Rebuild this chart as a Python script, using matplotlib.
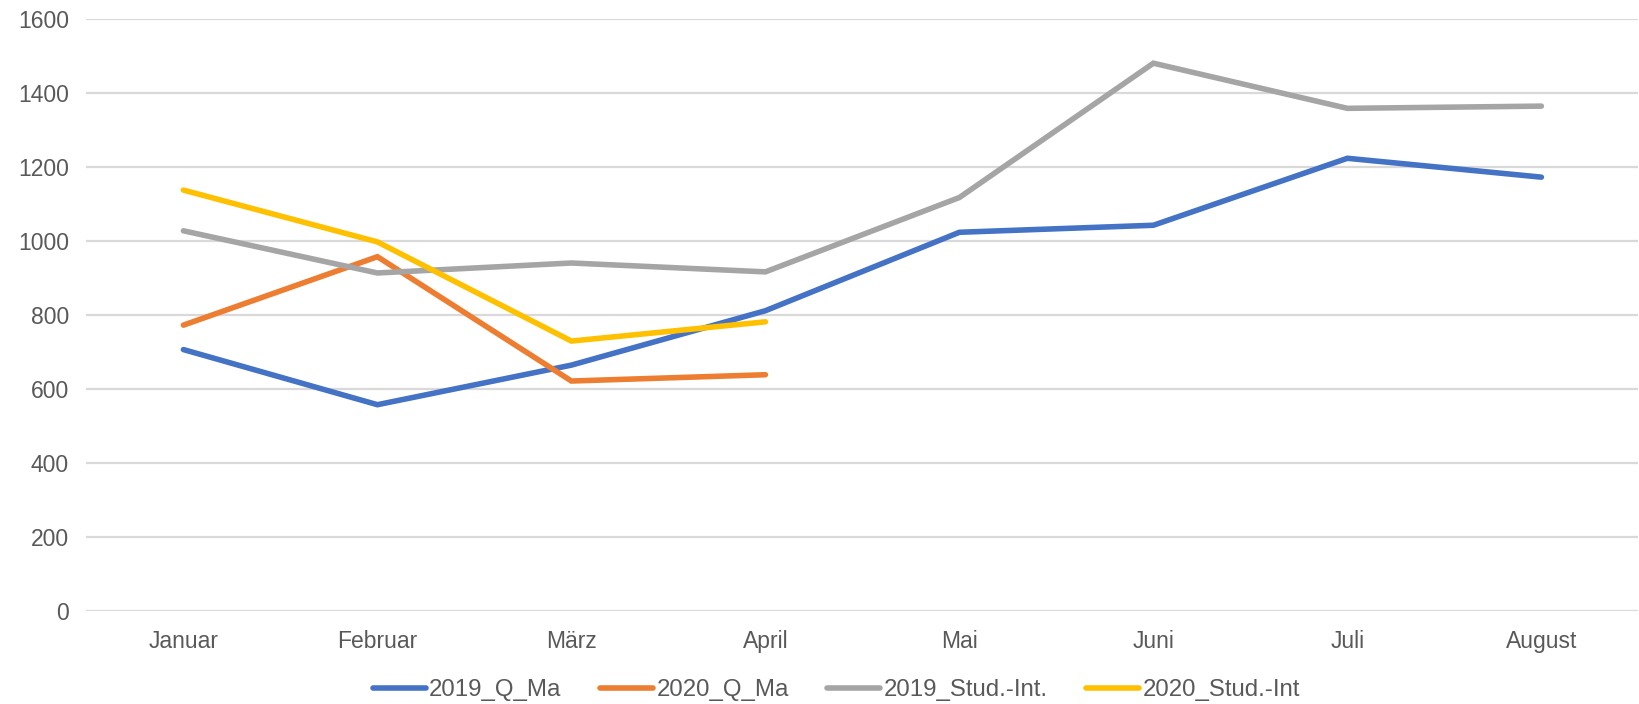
import matplotlib.pyplot as plt

plt.rcParams['font.family'] = ['Liberation Sans', 'DejaVu Sans']

# data
months = ['Januar', 'Februar', 'März', 'April', 'Mai', 'Juni', 'Juli', 'August']
q_ma_2019 = [706, 557, 664, 811, 1023, 1042, 1223, 1172]
q_ma_2020 = [772, 957, 621, 638]
stud_2019 = [1027, 913, 940, 916, 1117, 1480, 1358, 1364]
stud_2020 = [1137, 997, 729, 781]

fig = plt.figure(figsize=(16.4, 7.04), dpi=100)
ax = fig.add_axes([0.0527, 0.1324, 0.9463, 0.8409])

x = list(range(len(months)))
style = dict(lw=4.0, solid_capstyle='round', solid_joinstyle='miter')
ax.plot(x, q_ma_2019, color='#4472C4', label='2019_Q_Ma', **style)
ax.plot(x[:len(q_ma_2020)], q_ma_2020, color='#ED7D31', label='2020_Q_Ma', **style)
ax.plot(x, stud_2019, color='#A5A5A5', label='2019_Stud.-Int.', **style)
ax.plot(x[:len(stud_2020)], stud_2020, color='#FFC000', label='2020_Stud.-Int', **style)

ax.set_xlim(-0.5, len(months) - 0.5)
ax.set_ylim(0, 1600)
ax.set_yticks(range(0, 1601, 200))
ax.set_xticks(x)
ax.set_xticklabels(months)

ax.grid(axis='y', color='#D9D9D9', lw=1.6)
ax.set_axisbelow(True)
for s in ax.spines.values():
    s.set_visible(False)
ax.tick_params(length=0, labelsize=16.5, labelcolor='#595959')
ax.tick_params(axis='x', pad=13.5)
ax.tick_params(axis='y', pad=12.5)

fig.legend(loc='center', bbox_to_anchor=(0.51, 0.02), ncol=4, frameon=False,
           fontsize=17.3, labelcolor='#595959', handlelength=2.2,
           handletextpad=0.15, columnspacing=1.6)

fig.savefig('out.png', dpi=100)
